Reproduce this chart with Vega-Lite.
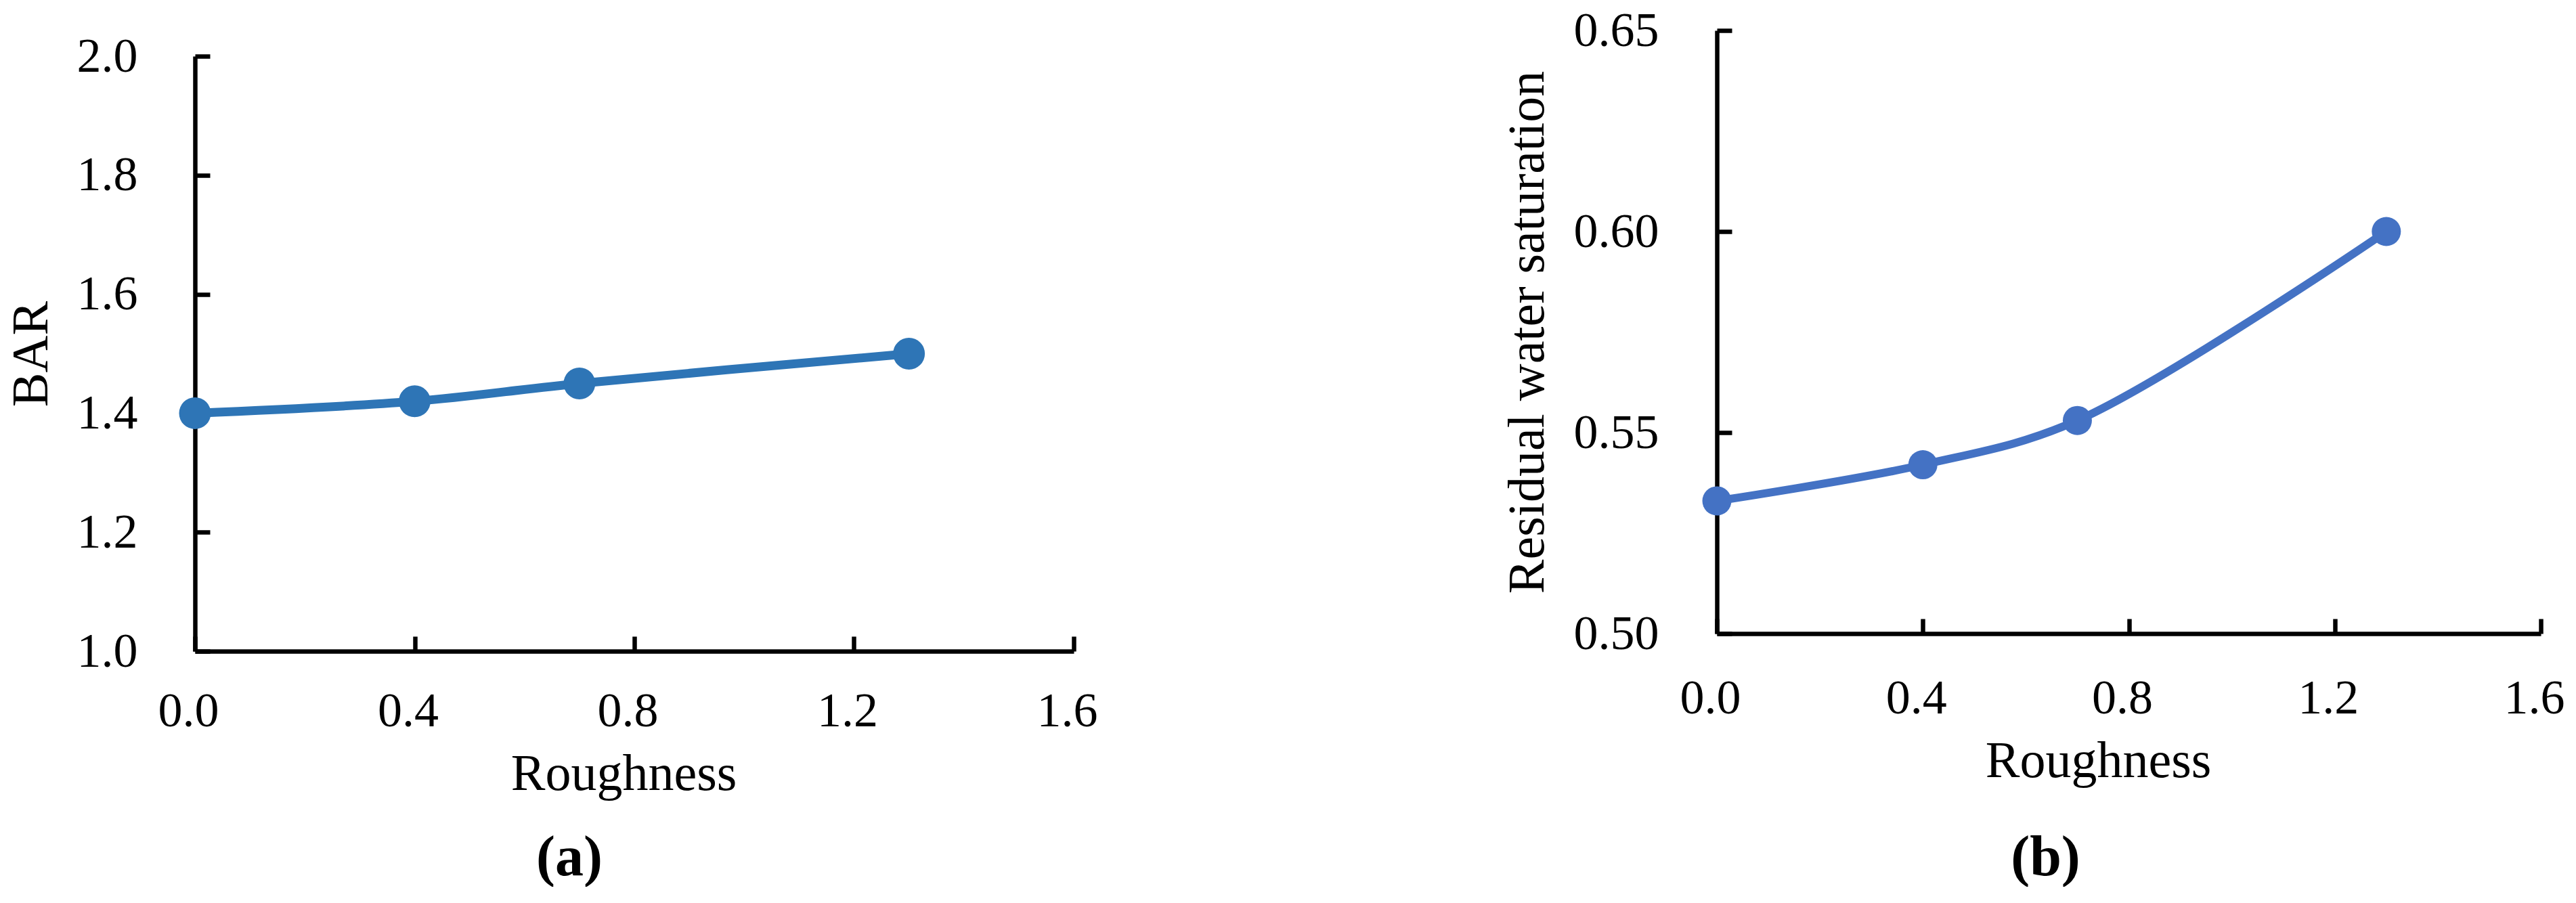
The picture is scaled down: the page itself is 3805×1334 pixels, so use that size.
{
  "$schema": "https://vega.github.io/schema/vega-lite/v6.json",
  "background": "white",
  "padding": {"left": 8, "top": 9, "right": 0, "bottom": 0},
  "spacing": 950,
  "bounds": "flush",
  "config": {
    "view": {"stroke": null},
    "font": "Liberation Serif",
    "axis": {
      "labelFont": "Liberation Serif",
      "titleFont": "Liberation Serif",
      "labelColor": "black",
      "titleColor": "black",
      "domainColor": "black",
      "tickColor": "black",
      "domainWidth": 6.5,
      "tickWidth": 6.5,
      "tickSize": -22,
      "grid": false,
      "labelFontSize": 72,
      "titleFontSize": 76,
      "titleFontWeight": "normal",
      "labelFlush": false,
      "labelOverlap": false
    }
  },
  "hconcat": [
    {
      "width": 1298,
      "height": 917,
      "title": {"text": "(a)", "orient": "bottom", "frame": "group", "fontSize": 84, "fontWeight": "bold", "font": "Liberation Serif", "color": "black", "dx": -96, "offset": 46},
      "data": {"values": [
        {"roughness": 0.0, "bar": 1.40},
        {"roughness": 0.4, "bar": 1.42},
        {"roughness": 0.7, "bar": 1.45},
        {"roughness": 1.3, "bar": 1.50}
      ]},
      "encoding": {
        "x": {"field": "roughness", "type": "quantitative", "scale": {"domain": [0, 1.6]},
          "axis": {"values": [0, 0.4, 0.8, 1.2, 1.6], "format": ".1f", "title": "Roughness", "labelPadding": 75, "labelOffset": -10, "titlePadding": 20, "titleX": 633}},
        "y": {"field": "bar", "type": "quantitative", "scale": {"domain": [1, 2], "range": [917, 38]},
          "axis": {"values": [1, 1.2, 1.4, 1.6, 1.8, 2], "format": ".1f", "title": "BAR", "labelPadding": 107, "titlePadding": 28}}
      },
      "layer": [
        {"mark": {"type": "line", "color": "#2E75B6", "strokeWidth": 13, "interpolate": "catmull-rom"}},
        {"mark": {"type": "point", "filled": true, "opacity": 1, "color": "#2E75B6", "size": 2209}}
      ]
    },
    {
      "width": 1217,
      "height": 891,
      "title": {"text": "(b)", "orient": "bottom", "frame": "group", "fontSize": 84, "fontWeight": "bold", "font": "Liberation Serif", "color": "black", "dx": -123, "offset": 65},
      "data": {"values": [
        {"roughness": 0.0, "swr": 0.533},
        {"roughness": 0.4, "swr": 0.542},
        {"roughness": 0.7, "swr": 0.553},
        {"roughness": 1.3, "swr": 0.600}
      ]},
      "encoding": {
        "x": {"field": "roughness", "type": "quantitative", "scale": {"domain": [0, 1.6]},
          "axis": {"values": [0, 0.4, 0.8, 1.2, 1.6], "format": ".1f", "title": "Roughness", "labelPadding": 82, "labelOffset": -10, "titlePadding": 20, "titleX": 563}},
        "y": {"field": "swr", "type": "quantitative", "scale": {"domain": [0.5, 0.65]},
          "axis": {"values": [0.5, 0.55, 0.6, 0.65], "format": ".2f", "title": "Residual water saturation", "labelPadding": 108, "titlePadding": 41}}
      },
      "layer": [
        {"mark": {"type": "line", "color": "#4472C4", "strokeWidth": 12, "interpolate": "catmull-rom"}},
        {"mark": {"type": "point", "filled": true, "opacity": 1, "color": "#4472C4", "size": 1849}}
      ]
    }
  ]
}
